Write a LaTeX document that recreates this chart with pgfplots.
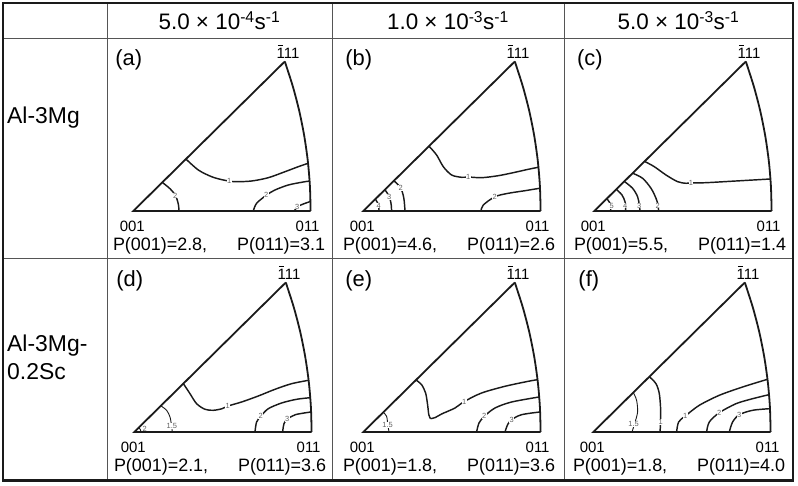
\documentclass[border=0pt]{standalone}
\usepackage{fontspec}
\setmainfont{Liberation Sans}
\usepackage{pgfplots}
\pgfplotsset{compat=1.18}

\definecolor{ink}{HTML}{1A1A1A}
\definecolor{gridc}{HTML}{555555}

% bar over a digit (Miller index notation)
\newcommand\bone{\leavevmode\rlap{\hspace{0.09em}\raisebox{0.84em}{\rule{0.36em}{0.07em}}}1}

\pgfplotsset{
  ipf/.style={x=1bp, y=1bp, xmin=0, xmax=180, ymin=0, ymax=152,
    hide axis, clip=false, anchor=south west},
  tri/.style={ink, line width=1.8bp, no marks},
  cont/.style={ink, line width=1.45bp, no marks, smooth},
}
\tikzset{
  clab/.style={font=\fontsize{7.5}{7.5}\selectfont, text=ink!70, fill=white, inner sep=0.3bp},
  vlab/.style={font=\fontsize{15}{15}\selectfont, anchor=base},
  plab/.style={font=\fontsize{18}{18}\selectfont},
  plet/.style={font=\fontsize{22}{22}\selectfont},
  head/.style={font=\fontsize{22.5}{22.5}\selectfont, anchor=base},
  side/.style={font=\fontsize{23}{23}\selectfont, anchor=base west, inner sep=0},
}

% standard stereographic triangle 001-011-111 with its annotations
\newcommand\ipfframe[3]{%
  \addplot[tri] coordinates {(177.3,0) (0,0) (151.5,149.5)};
  \addplot[tri, smooth] coordinates {(151.5,149.5) (159.4,125) (165.95,100) (170.95,75) (174.5,50) (176.6,25) (177.3,0)};
  \node[plet] at (axis cs:-4.5,151) {(#1)};
  \node[vlab] at (axis cs:154.7,152.7) {\bone 11};
  \node[vlab] at (axis cs:-1,-21) {001};
  \node[vlab] at (axis cs:174.3,-21) {011};
  \node[plab, anchor=base west, inner sep=0] at (axis cs:-20.5,-40) {P(001)=#2,};
  \node[plab, anchor=base east, inner sep=0] at (axis cs:192,-40) {P(011)=#3};
}

\begin{document}
\begin{tikzpicture}[x=1bp, y=1bp]
\useasboundingbox (0,0) rectangle (798,486);

% table rules
\draw[gridc, line width=1bp] (107,5.5) -- (107,483);
\draw[gridc, line width=1bp] (332,5.5) -- (332,483);
\draw[gridc, line width=1bp] (564,5.5) -- (564,483);
\draw[gridc, line width=1bp] (3,447.5) -- (793,447.5);
\draw[gridc, line width=1bp] (3,227) -- (793,227);
\draw[ink, line width=2.2bp] (3,5.5) rectangle (793,483);

% column heads: strain rate
\node[head] at (219.5,456) {5.0 × 10\textsuperscript{-4}s\textsuperscript{-1}};
\node[head] at (448,456) {1.0 × 10\textsuperscript{-3}s\textsuperscript{-1}};
\node[head] at (678.5,456) {5.0 × 10\textsuperscript{-3}s\textsuperscript{-1}};

% row heads: alloy
\node[side] at (7,362) {Al-3Mg};
\node[side] at (7,134.3) {Al-3Mg-};
\node[side] at (7,106) {0.2Sc};

% (a) Al-3Mg, 5.0e-4 /s
\begin{axis}[ipf, at={(133.3,275)}]
  \addplot[cont] coordinates {(52.7,51.9) (65,41) (78.3,34.3) (90,31) (101.7,29.3) (118.3,30) (135,33.3) (151.7,39.3) (165,44.3) (174.8,47.7)};
  \addplot[cont] coordinates {(29,28.6) (37,22) (42.3,15.3) (45,7) (45.7,0)};
  \addplot[cont] coordinates {(120,0) (123.3,7.7) (133.3,16) (141.7,21) (155,26) (168.3,28.7) (176.3,30)};
  \addplot[cont] coordinates {(161,0) (164.3,4.3) (170,7) (177.1,9.5)};
  \ipfframe{a}{2.8}{3.1}
  \node[clab] at (axis cs:96,30.2) {1};
  \node[clab] at (axis cs:42,15.5) {2};
  \node[clab] at (axis cs:133,16) {2};
  \node[clab] at (axis cs:164,4.5) {3};
\end{axis}

% (b) Al-3Mg, 1.0e-3 /s
\begin{axis}[ipf, at={(363.3,275)}]
  \addplot[cont] coordinates {(65.7,64.8) (73.3,56) (80,44.3) (88.3,36) (98.3,33.7) (105,34) (118.3,33.3) (135,35.3) (151.7,38.7) (165,41.7) (175,43.7)};
  \addplot[cont] coordinates {(30.6,30.2) (37.3,23.3) (40.5,13) (41.7,0)};
  \addplot[cont] coordinates {(21.6,21.3) (26,14.3) (27.8,7) (28.3,0)};
  \addplot[cont] coordinates {(12.1,11.9) (15.2,6) (15.7,0)};
  \addplot[cont] coordinates {(117.7,0) (120,6) (131.7,14.3) (145,17.7) (161.7,20.3) (176.3,22.7)};
  \ipfframe{b}{4.6}{2.6}
  \node[clab] at (axis cs:105,34.2) {1};
  \node[clab] at (axis cs:37.5,23) {2};
  \node[clab] at (axis cs:26,14) {3};
  \node[clab] at (axis cs:15.5,5.5) {4};
  \node[clab] at (axis cs:131.5,14.5) {2};
\end{axis}

% (c) Al-3Mg, 5.0e-3 /s
\begin{axis}[ipf, at={(594.3,275)}]
  \addplot[cont] coordinates {(50.3,49.6) (60,44.3) (71.7,36) (83.3,29.3) (91.7,27.7) (96.7,28) (111.7,28.3) (141.7,30) (176.15,32)};
  \addplot[cont] coordinates {(38.3,37.8) (48.3,32.7) (56.7,22.7) (61.7,12.7) (63.7,6) (64.3,0)};
  \addplot[cont] coordinates {(30,29.6) (38.3,22.7) (43.3,14.3) (45,6) (45.7,0)};
  \addplot[cont] coordinates {(22,21.7) (27.7,16) (30.7,9.3) (31.2,4) (31.3,0)};
  \addplot[cont] coordinates {(12.5,12.3) (15.7,7.7) (16.5,0)};
  \ipfframe{c}{5.5}{1.4}
  \node[clab] at (axis cs:96.7,28) {1};
  \node[clab] at (axis cs:63.5,5.5) {2};
  \node[clab] at (axis cs:45,5.5) {3};
  \node[clab] at (axis cs:31,5.5) {4};
  \node[clab] at (axis cs:17.5,5) {5};
\end{axis}

% (d) Al-3Mg-0.2Sc, 5.0e-4 /s
\begin{axis}[ipf, at={(134.3,54)}]
  \addplot[cont] coordinates {(49,48.4) (55.7,38.3) (62.3,28.3) (70.7,22.7) (79,21.7) (87.7,23.3) (93.7,26) (107.3,30) (124,36) (140.7,42.7) (157.3,48.3) (174.3,51.7)};
  \addplot[cont] coordinates {(120.7,0) (122.3,10) (126.7,16) (134,23.3) (147.3,29) (162.3,32.7) (175.9,34.3)};
  \addplot[cont] coordinates {(148.3,0) (149.7,8.3) (153,12.7) (161,17.3) (176.6,20)};
  \addplot[cont, line width=0.9bp] coordinates {(26.5,26.2) (32.3,21.7) (35.7,15) (37.3,6) (38,0)};
  \addplot[cont, line width=0.9bp] coordinates {(4.4,4.3) (6,2.5) (6.7,0)};
  \ipfframe{d}{2.1}{3.6}
  \node[clab] at (axis cs:93.5,25.8) {1};
  \node[clab] at (axis cs:126.5,16) {2};
  \node[clab] at (axis cs:153,12.7) {3};
  \node[clab] at (axis cs:37.5,6) {1.5};
  \node[clab, fill=none] at (axis cs:10.5,3) {2};
\end{axis}

% (e) Al-3Mg-0.2Sc, 1.0e-3 /s
\begin{axis}[ipf, at={(363.3,54)}]
  \addplot[cont] coordinates {(52.7,52) (58.3,47.3) (62.3,39) (64.3,27.3) (65.5,17.3) (67.2,13.3)};
  \addplot[cont] coordinates {(67.2,13.3) (72,14.5) (78.3,18) (91.7,24) (101,30.5) (118.3,39) (141.7,45.7) (165,50.7) (174.2,52.3)};
  \addplot[cont] coordinates {(113.3,0) (115.7,9) (121,15.7) (131.7,24) (148.3,30) (175.8,35)};
  \addplot[cont] coordinates {(141.7,0) (144.3,7.3) (148.3,12.3) (158.3,17.3) (176.6,20)};
  \addplot[cont, line width=0.9bp] coordinates {(20,19.7) (23.3,15.7) (24.5,7.3) (25.7,0)};
  \ipfframe{e}{1.8}{3.6}
  \node[clab] at (axis cs:101,30.5) {1};
  \node[clab] at (axis cs:121,15.7) {2};
  \node[clab] at (axis cs:148.3,12.3) {3};
  \node[clab] at (axis cs:24.3,7.3) {1.5};
\end{axis}

% (f) Al-3Mg-0.2Sc, 5.0e-3 /s
\begin{axis}[ipf, at={(593.3,54)}]
  \addplot[cont] coordinates {(56,55.3) (62.7,48.3) (66,38.3) (67.3,23.3) (67.3,10) (66.7,0)};
  \addplot[cont, line width=0.9bp] coordinates {(40,39.5) (43.3,31.7) (44.3,20) (41.5,9) (38.7,0)};
  \addplot[cont] coordinates {(83.3,0) (85.3,10) (92,16) (106,26.7) (126,36.7) (149.3,45) (174.2,52.7)};
  \addplot[cont] coordinates {(113.3,0) (116,10) (126,19.3) (142.7,28.3) (159.3,33.3) (175.6,37.3)};
  \addplot[cont] coordinates {(136,0) (139.3,10) (146,17.3) (159.3,21.7) (176.3,23.3)};
  \ipfframe{f}{1.8}{4.0}
  \node[clab] at (axis cs:67.3,10) {1};
  \node[clab] at (axis cs:40.3,8.3) {1.5};
  \node[clab] at (axis cs:92,16) {1};
  \node[clab] at (axis cs:126,19.3) {2};
  \node[clab] at (axis cs:146,17.3) {3};
\end{axis}
\end{tikzpicture}
\end{document}
